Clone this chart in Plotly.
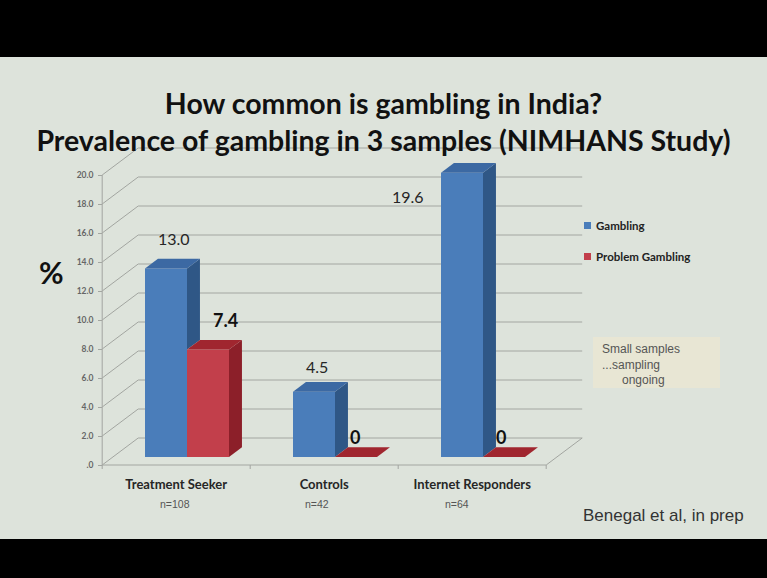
import plotly.graph_objects as go

# ---------------- data ----------------
categories = ["Treatment Seeker", "Controls", "Internet Responders"]
sample_sizes = ["n=108", "n=42", "n=64"]
series_names = ["Gambling", "Problem Gambling"]
gambling = [13.0, 4.5, 19.6]
problem_gambling = [7.4, 0.0, 0.0]
y_tick_values = [0, 2, 4, 6, 8, 10, 12, 14, 16, 18, 20]
y_tick_labels = [".0", "2.0", "4.0", "6.0", "8.0", "10.0", "12.0", "14.0", "16.0", "18.0", "20.0"]
title_lines = ["How common is gambling in India?",
               "Prevalence of gambling in 3 samples (NIMHANS Study)"]
note_text = "Small samples<br>...sampling<br>&nbsp;&nbsp;&nbsp;&nbsp;&nbsp;&nbsp;ongoing"
source_text = "Benegal et al, in prep"

# ---------------- geometry / style ----------------
W, H = 767, 578
X0_PX = 176.2          # pixel of category 0 on the front plane
SLOT_PX = 148.0        # pixels per category slot
Y0_PX = 465.0          # pixel of value 0 on the front plane
PX_PER_UNIT = 14.5     # pixels per percentage point
DEPTH_X_PX, DEPTH_Y_PX = 36.0, 27.0

FULL_DX = DEPTH_X_PX / SLOT_PX
FULL_DV = DEPTH_Y_PX / PX_PER_UNIT
BAR_D0, BAR_D1 = 0.30, 0.66
BAR_W = 42.0 / SLOT_PX
DDX = (BAR_D1 - BAR_D0) * FULL_DX
DDV = (BAR_D1 - BAR_D0) * FULL_DV
VB = BAR_D0 * FULL_DV

BG = "rgb(221,227,219)"
GRID = "#a3a6a1"
colors = [
    dict(front="#4a7dba", side="#2f5786", top="#3c69a3"),
    dict(front="#c23f4b", side="#8c1f29", top="#a0262f"),
]
label_shifts = [
    [(1.5, 25), (-3.5, 20), (-60, -29)],
    [(11.5, 25), (-7.5, 15), (-9.5, 15)],
]
label_fonts = [
    dict(family="Lato", size=16, color="#262626"),
    dict(family="Lato", size=18, color="#111111", weight="bold"),
]
n_label_shifts = [-1, -7, -15]

x_range = [(0 - X0_PX) / SLOT_PX, (W - X0_PX) / SLOT_PX]
y_range = [(Y0_PX - H) / PX_PER_UNIT, Y0_PX / PX_PER_UNIT]


def px(x):
    return x / W


def py(y):
    return 1 - y / H


fig = go.Figure()

series_values = [gambling, problem_gambling]
xs = list(range(len(categories)))
bar_center = [i + BAR_D0 * FULL_DX for i in xs]

# front faces
for s, vals in enumerate(series_values):
    fig.add_trace(go.Bar(
        x=bar_center, y=vals, base=VB, width=BAR_W,
        offset=-BAR_W if s == 0 else 0.0,
        marker=dict(color=colors[s]["front"], line=dict(width=0)),
        name=series_names[s], showlegend=False, hoverinfo="skip"))

# side and top faces
for s, vals in enumerate(series_values):
    for i, v in enumerate(vals):
        x0 = bar_center[i] + (-BAR_W if s == 0 else 0.0)
        x1 = x0 + BAR_W
        lower = 0.0
        if s == 0:
            lower = min(max(series_values[1][i], 0.0), v)
        if v > lower:
            fig.add_trace(go.Scatter(
                x=[x1, x1, x1 + DDX, x1 + DDX, x1],
                y=[VB + lower, VB + v, VB + v + DDV, VB + lower + DDV, VB + lower],
                fill="toself", fillcolor=colors[s]["side"], mode="lines",
                line=dict(width=0), showlegend=False, hoverinfo="skip"))
        fig.add_trace(go.Scatter(
            x=[x0, x1, x1 + DDX, x0 + DDX, x0],
            y=[VB + v, VB + v, VB + v + DDV, VB + v + DDV, VB + v],
            fill="toself", fillcolor=colors[s]["top"], mode="lines",
            line=dict(width=0), showlegend=False, hoverinfo="skip"))
        xs_, ys_ = label_shifts[s][i]
        fig.add_annotation(
            x=x0 + BAR_W / 2 + DDX / 2, y=VB + v + DDV / 2,
            xref="x", yref="y", text=("0" if v == 0 else f"{v:.1f}"),
            showarrow=False, xshift=xs_, yshift=ys_, font=label_fonts[s])

# ---------------- walls / gridlines (shapes below traces) ----------------
shapes = []
left = -0.5
right = len(categories) - 0.5
line_style = dict(color=GRID, width=1)
for v in y_tick_values:
    shapes.append(dict(type="line", xref="x", yref="y", layer="below",
                       x0=left, y0=v, x1=left + FULL_DX, y1=v + FULL_DV, line=line_style))
    shapes.append(dict(type="line", xref="x", yref="y", layer="below",
                       x0=left + FULL_DX, y0=v + FULL_DV, x1=right + FULL_DX, y1=v + FULL_DV,
                       line=line_style))
# front value axis
shapes.append(dict(type="line", xref="x", yref="y", layer="below",
                   x0=left, y0=0, x1=left, y1=max(y_tick_values), line=line_style))
# floor front edge and right edge
shapes.append(dict(type="line", xref="x", yref="y", layer="below",
                   x0=left, y0=0, x1=right, y1=0, line=line_style))
shapes.append(dict(type="line", xref="x", yref="y", layer="below",
                   x0=right, y0=0, x1=right + FULL_DX, y1=FULL_DV, line=line_style))
# category boundary ticks
for k in range(len(categories) + 1):
    xb = left + k
    shapes.append(dict(type="line", xref="x", yref="y", layer="below",
                       x0=xb, y0=0, x1=xb, y1=-4 / PX_PER_UNIT, line=line_style))

# black bands of the slide photo
shapes.append(dict(type="rect", xref="paper", yref="paper", x0=0, x1=1, y0=py(57), y1=1,
                   fillcolor="black", line=dict(width=0), layer="above"))
shapes.append(dict(type="rect", xref="paper", yref="paper", x0=0, x1=1, y0=0, y1=py(539),
                   fillcolor="black", line=dict(width=0), layer="above"))
# note box
shapes.append(dict(type="rect", xref="paper", yref="paper", x0=px(593), x1=px(720),
                   y0=py(388), y1=py(337), fillcolor="#e8e6d4", line=dict(width=0), layer="below"))
# legend swatches
for s in range(2):
    yc = 225.5 + 31 * s
    shapes.append(dict(type="rect", xref="paper", yref="paper",
                       x0=px(584), x1=px(591), y0=py(yc + 3.5), y1=py(yc - 3.5),
                       fillcolor=colors[s]["front"], line=dict(width=0)))
    fig.add_annotation(xref="paper", yref="paper", x=px(594), y=py(yc), xanchor="left",
                       yanchor="middle", showarrow=False, text=series_names[s],
                       font=dict(family="Lato", size=11.5, color="#222", weight="bold"))

# sample-size labels
for i, n in enumerate(sample_sizes):
    fig.add_annotation(x=i, y=0, xref="x", yref="y", text=n, showarrow=False,
                       yshift=-39, xshift=n_label_shifts[i],
                       font=dict(family="Liberation Sans", size=10.5, color="#555"))

# "%" axis label
fig.add_annotation(xref="paper", yref="paper", x=px(51), y=py(272), showarrow=False,
                   xanchor="center", yanchor="middle",
                   text="%", font=dict(family="Lato", size=30, color="#111", weight="bold"))
# note text
fig.add_annotation(xref="paper", yref="paper", x=px(600), y=py(364), xanchor="left",
                   yanchor="middle", align="left", showarrow=False, text=note_text,
                   font=dict(family="Liberation Sans", size=12, color="#555"))
# source
fig.add_annotation(xref="paper", yref="paper", x=px(663), y=py(515), showarrow=False,
                   xanchor="center", yanchor="middle",
                   text=source_text, font=dict(family="Liberation Sans", size=17, color="#333"))

fig.update_layout(
    width=W, height=H, autosize=False,
    margin=dict(l=0, r=0, t=0, b=0, pad=0),
    paper_bgcolor=BG, plot_bgcolor=BG,
    barmode="overlay", showlegend=False,
    shapes=shapes,
    title=dict(text="<br>".join(title_lines), x=0.5, xanchor="center",
               y=py(114), yanchor="middle",
               font=dict(family="Lato", size=28.5, color="#111", weight="bold")),
    xaxis=dict(range=x_range, anchor="free", position=py(Y0_PX), showgrid=False,
               zeroline=False, showline=False, ticks="", tickvals=xs,
               ticktext=categories, ticklabelstandoff=10,
               tickfont=dict(family="Lato", size=13, color="#262626", weight="bold"),
               fixedrange=True),
    yaxis=dict(range=y_range, anchor="free", position=px(X0_PX - SLOT_PX / 2), showgrid=False,
               zeroline=False, showline=False, ticks="outside", ticklen=4,
               tickcolor=GRID, tickvals=y_tick_values, ticktext=y_tick_labels,
               ticklabelstandoff=3,
               tickfont=dict(family="Lato", size=8.5, color="#666", weight="bold"),
               fixedrange=True),
)

fig.write_html("out.html")
